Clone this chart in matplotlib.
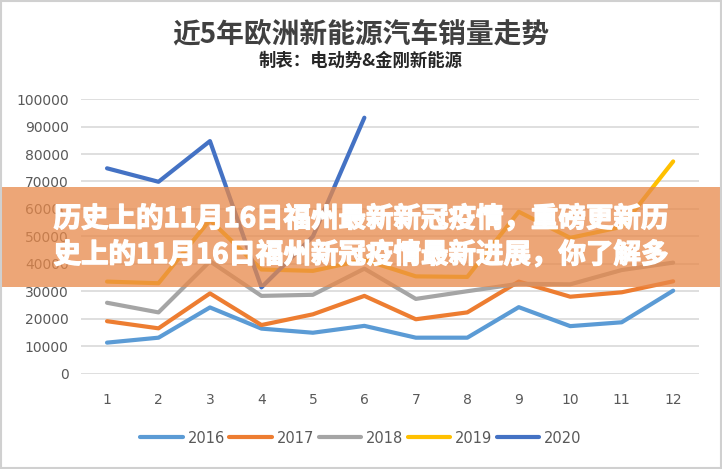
import matplotlib.pyplot as plt
from matplotlib.patches import Rectangle
import matplotlib.patheffects as pe

plt.rcParams['font.family'] = ['Noto Sans CJK SC', 'DejaVu Sans']

# Datos (ventas mensuales)
meses = list(range(1, 13))
ventas_2016 = [11400, 13200, 24200, 16500, 15000, 17500, 13200, 13200, 24300, 17400, 18800, 30300]
ventas_2017 = [19200, 16600, 29300, 17800, 21700, 28400, 19900, 22400, 33600, 28100, 29700, 33700]
ventas_2018 = [25900, 22400, 41000, 28400, 28800, 38300, 27300, 30100, 32800, 32600, 37800, 40500]
ventas_2019 = [33600, 33000, 56000, 38000, 37500, 41500, 35500, 35300, 59000, 49500, 53500, 77300]
ventas_2020 = [74800, 69900, 84700, 31500, 50000, 93200]

anios = ['2016', '2017', '2018', '2019', '2020']
series = [ventas_2016, ventas_2017, ventas_2018, ventas_2019, ventas_2020]
colores = ['#5B9BD5', '#ED7D31', '#A5A5A5', '#FFC000', '#4472C4']

titulo = '近5年欧洲新能源汽车销量走势'
subtitulo = '制表：电动势&金刚新能源'
banner_1 = '历史上的11月16日福州最新新冠疫情，重磅更新历'
banner_2 = '史上的11月16日福州新冠疫情最新进展，你了解多'

fig = plt.figure(figsize=(7.22, 4.69), dpi=100)
ax = fig.add_axes([0.1126, 0.2026, 0.8554, 0.5863])

for anio, valores, color in zip(anios, series, colores):
    ax.plot(meses[:len(valores)], valores, color=color, lw=3, label=anio,
            solid_joinstyle='round', solid_capstyle='round')

ax.set_xlim(0.5, 12.5)
ax.set_ylim(0, 100000)
ax.set_xticks(meses)
ax.set_yticks(range(0, 100001, 10000))
ax.grid(axis='y', color='#D9D9D9', lw=1.2)
ax.set_axisbelow(True)
for s in ax.spines.values():
    s.set_visible(False)
ax.tick_params(length=0, labelcolor='#595959', labelsize=10)
ax.tick_params(axis='y', pad=9)
ax.tick_params(axis='x', pad=14)
for lab in ax.get_xticklabels() + ax.get_yticklabels():
    lab.set_family('DejaVu Sans')

# Leyenda centrada en la figura
leg = ax.legend(loc='center', bbox_to_anchor=(0.5, 1 - 438 / 469),
                bbox_transform=fig.transFigure, ncol=5, frameon=False,
                handlelength=2.9, handletextpad=0.35, columnspacing=0.3,
                prop={'family': 'DejaVu Sans', 'size': 10.5})
for t in leg.get_texts():
    t.set_color('#595959')

fig.text(0.5, 1 - 34 / 469, titulo, ha='center', va='center', fontsize=20,
         fontweight='bold', color='#404040')
fig.text(0.5, 1 - 61 / 469, subtitulo, ha='center', va='center', fontsize=12.5,
         fontweight='bold', color='#262626')

# Borde gris
fig.patches.append(Rectangle((0.002, 0.003), 0.996, 0.994, transform=fig.transFigure,
                             fill=False, edgecolor='#D0D0D0', lw=1.5, zorder=10))

# Banda naranja semitransparente con texto
fig.patches.append(Rectangle((0, 1 - 287 / 469), 1, 100 / 469, transform=fig.transFigure,
                             facecolor='#E8894A', alpha=0.75, edgecolor='none', zorder=5))
for y, txt in [(219, banner_1), (255, banner_2)]:
    fig.text(0.5, 1 - y / 469, txt, ha='center', va='center', fontsize=19.8,
             fontweight='bold', color='white', zorder=6,
             path_effects=[pe.withStroke(linewidth=1.0, foreground='white')])

fig.savefig('out.png', dpi=100)
